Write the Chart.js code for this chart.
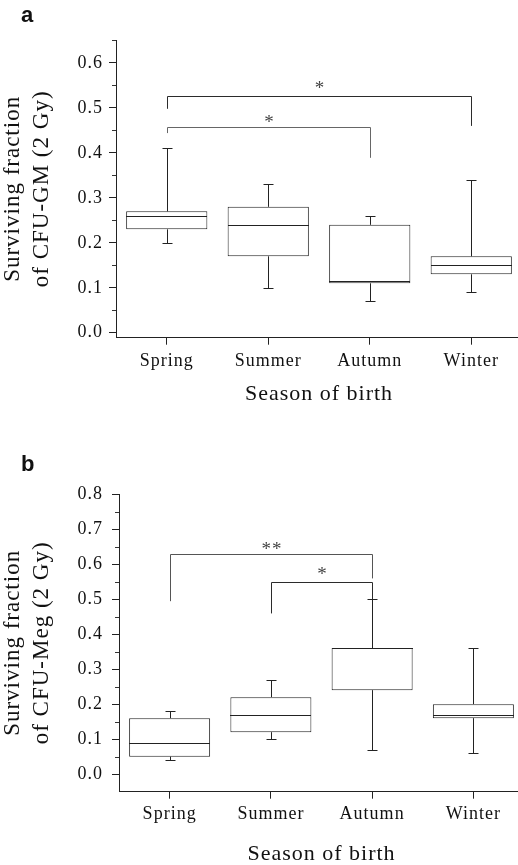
<!DOCTYPE html>
<html>
<head>
<meta charset="utf-8">
<script src="https://cdn.jsdelivr.net/npm/chart.js@4/dist/chart.umd.min.js"></script>
<style>
  html, body { margin: 0; padding: 0; background: #fff; overflow: hidden; width: 518px; height: 865px; }
  .panel { position: absolute; left: 0; }
  .tag { position: absolute; left: 21px; font: bold 22px/22px 'Liberation Sans', Arial, sans-serif; color: #111; }
</style>
</head>
<body>
<div class="panel" style="top:0"><canvas id="chartGM" width="522" height="420"></canvas></div>
<div class="panel" style="top:420px"><canvas id="chartMeg" width="524" height="450"></canvas></div>
<div class="tag" style="top:4px">a</div>
<div class="tag" style="top:453px">b</div>
<script>
const seasons = ['Spring', 'Summer', 'Autumn', 'Winter'];

// Panel a: surviving fraction of CFU-GM after 2 Gy
const gmMin = [0.20, 0.10, 0.07, 0.09];
const gmQ1  = [0.23, 0.17, 0.11, 0.13];
const gmMed = [0.26, 0.24, 0.115, 0.15];
const gmQ3  = [0.27, 0.28, 0.24, 0.17];
const gmMax = [0.41, 0.33, 0.26, 0.34];
const gmTicks = [0.0, 0.1, 0.2, 0.3, 0.4, 0.5, 0.6];
const gmMinorTicks = [0.05, 0.15, 0.25, 0.35, 0.45, 0.55, 0.65];
// significance brackets: category indexes, bar height, leg ends, mark
const gmBrackets = [
  { from: 0, to: 3, top: 0.527, endFrom: 0.498, endTo: 0.46, mark: '*', markAt: 0.553, color: '#2b2b2b' },
  { from: 0, to: 2, top: 0.458, endFrom: 0.444, endTo: 0.389, mark: '*', markAt: 0.477, color: '#666' }
];

// Panel b: surviving fraction of CFU-Meg after 2 Gy
const megMin = [0.04, 0.10, 0.07, 0.06];
const megQ1  = [0.05, 0.12, 0.24, 0.16];
const megMed = [0.09, 0.17, 0.36, 0.17];
const megQ3  = [0.16, 0.22, 0.36, 0.20];
const megMax = [0.18, 0.27, 0.50, 0.36];
const megTicks = [0.0, 0.1, 0.2, 0.3, 0.4, 0.5, 0.6, 0.7, 0.8];
const megMinorTicks = [0.05, 0.15, 0.25, 0.35, 0.45, 0.55, 0.65, 0.75];
const megBrackets = [
  { from: 0, to: 2, top: 0.628, endFrom: 0.494, endTo: 0.559, mark: '**', markAt: 0.655, color: '#555' },
  { from: 1, to: 2, top: 0.548, endFrom: 0.459, endTo: 0.50, mark: '*', markAt: 0.582, color: '#2b2b2b' }
];

const SERIF = "'Liberation Serif', 'Times New Roman', Times, serif";
const INK = '#111';
const LINE = '#222';

const crisp = v => Math.round(v) + 0.5;

// slightly wider letter spacing for all canvas text
const spacing = {
  id: 'spacing',
  beforeLayout(chart) { chart.ctx.letterSpacing = '1px'; },
  beforeDraw(chart) { chart.ctx.letterSpacing = '1px'; }
};

// whiskers, caps, medians, minor ticks and significance brackets
const boxDetails = {
  id: 'boxDetails',
  afterDatasetsDraw(chart, args, opts) {
    const { ctx, chartArea } = chart;
    const xs = chart.scales.x, ys = chart.scales.y;
    const bars = chart.getDatasetMeta(0).data;
    const s = opts.stats;
    ctx.save();
    ctx.lineWidth = 1;
    ctx.strokeStyle = LINE;
    s.med.forEach((m, i) => {
      const cx = crisp(xs.getPixelForValue(i));
      const half = bars[i].width / 2;
      const bx = bars[i].x;
      const yMin = crisp(ys.getPixelForValue(s.min[i]));
      const yQ1 = ys.getPixelForValue(s.q1[i]);
      const yQ3 = ys.getPixelForValue(s.q3[i]);
      const yMax = crisp(ys.getPixelForValue(s.max[i]));
      const yMed = crisp(ys.getPixelForValue(m));
      ctx.beginPath();
      // lower whisker + cap
      ctx.moveTo(cx, yQ1); ctx.lineTo(cx, yMin);
      ctx.moveTo(cx - 5, yMin); ctx.lineTo(cx + 5, yMin);
      // upper whisker + cap
      ctx.moveTo(cx, yQ3); ctx.lineTo(cx, yMax);
      ctx.moveTo(cx - 5, yMax); ctx.lineTo(cx + 5, yMax);
      // median
      ctx.moveTo(Math.round(bx - half), yMed); ctx.lineTo(Math.round(bx + half), yMed);
      ctx.stroke();
    });

    // minor ticks on the value axis
    ctx.beginPath();
    ctx.strokeStyle = '#333';
    opts.minor.forEach(v => {
      const py = crisp(ys.getPixelForValue(v));
      ctx.moveTo(chartArea.left - 4, py); ctx.lineTo(chartArea.left, py);
    });
    ctx.stroke();

    // brackets with significance marks
    ctx.font = '19px ' + SERIF;
    ctx.textAlign = 'center';
    ctx.textBaseline = 'alphabetic';
    opts.brackets.forEach(b => {
      const xa = crisp(xs.getPixelForValue(b.from));
      const xb = crisp(xs.getPixelForValue(b.to));
      const yt = crisp(ys.getPixelForValue(b.top));
      ctx.strokeStyle = b.color;
      ctx.beginPath();
      ctx.moveTo(xa, ys.getPixelForValue(b.endFrom));
      ctx.lineTo(xa, yt);
      ctx.lineTo(xb, yt);
      ctx.lineTo(xb, ys.getPixelForValue(b.endTo));
      ctx.stroke();
      ctx.fillStyle = '#444';
      ctx.fillText(b.mark, (xa + xb) / 2 + 0.5, ys.getPixelForValue(b.markAt) + 10);
    });
    ctx.restore();
  }
};

function makeChart(id, cfg) {
  const fmt = v => Number(v).toFixed(1);
  return new Chart(document.getElementById(id), {
    type: 'bar',
    data: {
      labels: seasons,
      datasets: [{
        data: cfg.q1.map((q, i) => [q, cfg.q3[i]]),
        backgroundColor: '#ffffff',
        borderColor: LINE,
        borderWidth: 1,
        borderSkipped: false,
        barPercentage: 0.8,
        categoryPercentage: 1.0
      }]
    },
    plugins: [spacing, boxDetails],
    options: {
      responsive: false,
      animation: false,
      events: [],
      layout: { padding: { top: cfg.padTop, right: 0, bottom: 0, left: 0 } },
      plugins: {
        legend: { display: false },
        tooltip: { enabled: false },
        boxDetails: {
          stats: { min: cfg.min, q1: cfg.q1, med: cfg.med, q3: cfg.q3, max: cfg.max },
          minor: cfg.minor,
          brackets: cfg.brackets
        }
      },
      scales: {
        x: {
          type: 'category',
          offset: true,
          grid: { display: true, drawOnChartArea: false, drawTicks: true, tickLength: 7, offset: false, color: '#222' },
          border: { display: true, color: '#222', width: 1 },
          ticks: { font: { family: SERIF, size: 18 }, color: INK, padding: cfg.xPad, maxRotation: 0, autoSkip: false },
          title: { display: true, text: 'Season of birth', color: INK,
                   font: { family: SERIF, size: 22, lineHeight: 1.2 },
                   padding: { top: 0, bottom: cfg.xTitlePad } },
          afterFit: s => { s.height = cfg.xHeight; }
        },
        y: {
          type: 'linear',
          min: cfg.yMin,
          max: cfg.yMax,
          afterBuildTicks: s => { s.ticks = cfg.ticks.map(v => ({ value: v })); },
          grid: { display: true, drawOnChartArea: false, drawTicks: true, tickLength: 7, color: '#222' },
          border: { display: true, color: '#222', width: 1 },
          ticks: { font: { family: SERIF, size: 18 }, color: INK, padding: cfg.yPad, callback: fmt },
          title: { display: true, text: cfg.yTitle, color: INK,
                   font: { family: SERIF, size: 23, lineHeight: 1.27 },
                   padding: { top: -2, bottom: 0 } },
          afterFit: s => { s.width = cfg.yWidth; }
        }
      }
    }
  });
}

makeChart('chartGM', {
  min: gmMin, q1: gmQ1, med: gmMed, q3: gmQ3, max: gmMax,
  ticks: gmTicks, minor: gmMinorTicks, brackets: gmBrackets,
  yMin: -0.011, yMax: 0.651,
  yTitle: ['Surviving fraction', 'of CFU-GM (2 Gy)'],
  padTop: 40, yWidth: 116, yPad: 6, xHeight: 82.3, xPad: 6, xTitlePad: 13
});

makeChart('chartMeg', {
  min: megMin, q1: megQ1, med: megMed, q3: megQ3, max: megMax,
  ticks: megTicks, minor: megMinorTicks, brackets: megBrackets,
  yMin: -0.05, yMax: 0.8,
  yTitle: ['Surviving fraction', 'of CFU-Meg (2 Gy)'],
  padTop: 74, yWidth: 119, yPad: 9, xHeight: 78.3, xPad: 5, xTitlePad: 2.5
});
</script>
</body>
</html>
